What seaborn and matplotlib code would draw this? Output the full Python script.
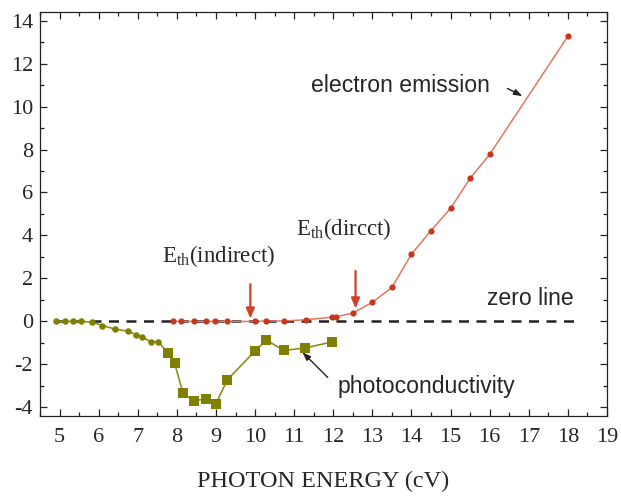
import numpy as np
import pandas as pd
import matplotlib
matplotlib.use("Agg")
import matplotlib.pyplot as plt
import seaborn as sns
from matplotlib.ticker import MultipleLocator

# Photoconductivity: small circles at low energy, squares above ~7.7 eV
pc_circle_x = [4.9, 5.13, 5.34, 5.56, 5.83, 6.09, 6.41, 6.75, 6.95, 7.12, 7.33, 7.53]
pc_circle_y = [0.0, 0.0, 0.0, 0.0, -0.03, -0.19, -0.35, -0.46, -0.61, -0.72, -0.95, -0.95]
pc_square_x = [7.77, 7.94, 8.16, 8.43, 8.74, 8.99, 9.29, 9.99, 10.29, 10.74, 11.29, 11.98]
pc_square_y = [-1.46, -1.93, -3.35, -3.7, -3.6, -3.86, -2.72, -1.39, -0.87, -1.35, -1.23, -0.95]

# Electron emission yield
ee_x = [7.9, 8.1, 8.43, 8.75, 8.97, 9.29, 9.99, 10.27, 10.73, 11.3, 11.98, 12.08,
        12.5, 13.0, 13.5, 14.0, 14.5, 15.0, 15.5, 16.0, 18.0]
ee_y = [0.0, 0.0, 0.0, 0.0, 0.0, 0.0, 0.0, 0.02, 0.02, 0.08, 0.2, 0.22,
        0.39, 0.89, 1.58, 3.13, 4.23, 5.26, 6.66, 7.77, 13.27]

x_ticks = list(range(5, 20))
y_ticks = list(range(-4, 15, 2))

sns.set_style("ticks")
plt.rcParams["font.family"] = ["Liberation Serif", "DejaVu Serif"]
plt.rcParams["mathtext.fontset"] = "custom"
plt.rcParams["mathtext.rm"] = "Liberation Serif"
plt.rcParams["mathtext.it"] = "Liberation Serif:italic"
plt.rcParams["axes.unicode_minus"] = False

fig = plt.figure(figsize=(6.21, 4.97), dpi=100)
ax = fig.add_axes([0.0644, 0.163, 0.913, 0.8129])

olive = "#7f7f00"
olive_line = "#8e8e1c"
red = "#c8361e"
red_line = "#e5755d"

pc = pd.DataFrame({
    "energy": pc_circle_x + pc_square_x,
    "signal": pc_circle_y + pc_square_y,
    "kind": ["circle"] * len(pc_circle_x) + ["square"] * len(pc_square_x),
})
ee = pd.DataFrame({"energy": ee_x, "signal": ee_y})

# zero reference
ax.plot([4.92, 18.2], [0, 0], color="#222222", lw=1.8, ls=(0, (4, 3)), zorder=1)

sns.lineplot(data=pc, x="energy", y="signal", color=olive_line, lw=1.2,
             sort=False, ax=ax, zorder=2)
sns.scatterplot(data=pc[pc.kind == "circle"], x="energy", y="signal", marker="o",
                s=22, color=olive, edgecolor=olive, linewidth=0, ax=ax, zorder=3)
sns.scatterplot(data=pc[pc.kind == "square"], x="energy", y="signal", marker="s",
                s=46, color=olive, edgecolor=olive, linewidth=0, ax=ax, zorder=3)

sns.lineplot(data=ee, x="energy", y="signal", color=red_line, lw=1.1,
             sort=False, ax=ax, zorder=2)
sns.scatterplot(data=ee, x="energy", y="signal", marker="o", s=20, color=red,
                edgecolor=red, linewidth=0, ax=ax, zorder=3)

ax.set_xlim(4.5, 19)
ax.set_ylim(-4.4, 14.4)
ax.set_xticks(x_ticks)
ax.set_yticks(y_ticks)
ax.xaxis.set_minor_locator(MultipleLocator(0.5))
ax.yaxis.set_minor_locator(MultipleLocator(1))
ax.tick_params(which="both", direction="in", top=True, right=True,
               labeltop=False, labelright=False, color="#222222", width=0.9)
ax.tick_params(which="major", length=5, labelsize=16)
ax.tick_params(axis="x", which="major", pad=9)
ax.tick_params(axis="y", which="major", pad=5)
ax.tick_params(which="minor", length=3)
for s in ax.spines.values():
    s.set_linewidth(0.9)
    s.set_color("#222222")

ax.set_xlabel("PHOTON ENERGY (cV)", fontsize=17.5, labelpad=17)
ax.set_ylabel("")

# threshold markers
arrow_kw = dict(arrowstyle="-|>,head_length=0.6,head_width=0.25", color="#d0402a", lw=1.6)
ax.annotate("", xy=(9.88, 0.0), xytext=(9.88, 1.86), arrowprops=arrow_kw, zorder=4)
ax.annotate("", xy=(12.57, 0.47), xytext=(12.57, 2.48), arrowprops=arrow_kw, zorder=4)

ax.text(7.63, 3.05, r"E$_{\mathrm{th}}$(indirect)", fontsize=16.5, va="center", ha="left")
ax.text(11.06, 4.3, r"E$_{\mathrm{th}}$(dircct)", fontsize=16.5, va="center", ha="left")

sans = ["Liberation Sans", "DejaVu Sans"]
ax.text(11.42, 10.98, "electron emission", fontsize=16.6, family=sans, va="center", ha="left")
ax.text(15.92, 1.08, "zero line", fontsize=16.6, family=sans, va="center", ha="left")
ax.text(12.12, -3.02, "photoconductivity", fontsize=16.6, family=sans, va="center", ha="left")

black_arrow = dict(arrowstyle="-|>,head_length=0.5,head_width=0.18", color="#222222", lw=1.0)
ax.annotate("", xy=(16.9, 10.43), xytext=(16.39, 10.9), arrowprops=black_arrow)
ax.annotate("", xy=(11.16, -1.34), xytext=(11.91, -2.7), arrowprops=black_arrow)

fig.savefig("out.png", dpi=100)
